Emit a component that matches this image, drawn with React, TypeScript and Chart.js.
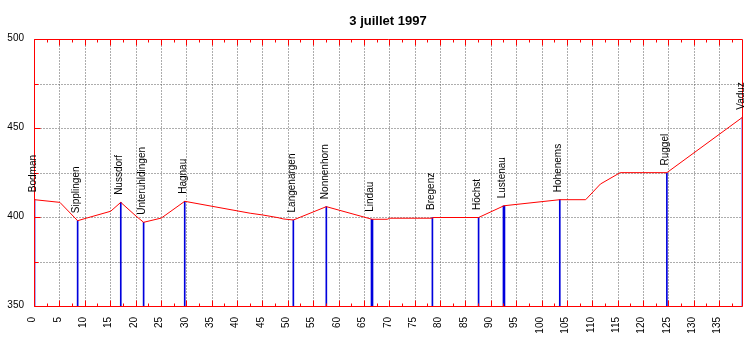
import React, { useEffect, useRef } from "react";
import { Chart, registerables } from "chart.js";

Chart.register(...registerables);

const TITLE = "3 juillet 1997";

const stations = ["Bodman", "Sipplingen", "Nussdorf", "Unteruhldingen", "Hagnau", "Langenargen", "Nonnenhorn", "Lindau", "Bregenz", "Höchst", "Lustenau", "Hohenems", "Ruggel", "Vaduz"];
const stationKm = [0, 8.5, 17, 21.5, 29.6, 51, 57.5, 66.5, 78.4, 87.5, 92.5, 103.5, 124.6, 139.5];
const stationAlt = [410, 398.2, 408.5, 397.3, 409.1, 398.6, 406.1, 399, 400, 400, 406.6, 410, 425, 456.3];
const stationThick = [false, false, false, false, false, false, false, true, false, false, true, false, false, false];

const routeKm = [0, 5, 8.5, 10.3, 15, 17, 20, 21.5, 25, 29.6, 42.5, 45, 48, 49, 51, 57.5, 66.5, 69.5, 70, 78.4, 78.5, 87.5, 92.5, 103.5, 108.6, 111.5, 115.4, 124.6, 139.5];
const routeAlt = [410, 408.5, 398.2, 399.7, 403.5, 408.5, 400.8, 397.3, 399.7, 409.1, 402.4, 401.4, 399.9, 399.2, 398.6, 406.1, 399, 399, 399.6, 399.6, 400, 400, 406.6, 410, 410, 418.8, 425.2, 425.2, 456.3];

const xTicks = [0, 5, 10, 15, 20, 25, 30, 35, 40, 45, 50, 55, 60, 65, 70, 75, 80, 85, 90, 95, 100, 105, 110, 115, 120, 125, 130, 135];
const xMinorTicks = [2.5, 7.5, 12.5, 17.5, 22.5, 27.5, 32.5, 37.5, 42.5, 47.5, 52.5, 57.5, 62.5, 67.5, 72.5, 77.5, 82.5, 87.5, 92.5, 97.5, 102.5, 107.5, 112.5, 117.5, 122.5, 127.5, 132.5, 137.5];
const yTicks = [350, 400, 450, 500];
const yMinorTicks = [375, 425, 475];

const X_MIN = 0;
const X_MAX = 139.5;
const Y_MIN = 350;
const Y_MAX = 500;

const FONT = '"Liberation Sans", Arial, sans-serif';
const RED = "#ff0000";
const BLUE = "#0000dd";

const snap = (v: number) => Math.round(v - 0.5) + 0.5;

const profilePlugin = {
  id: "profilePlugin",
  beforeDatasetsDraw(chart: any) {
    const { ctx, chartArea } = chart;
    const xs = chart.scales.x;
    const ys = chart.scales.y;
    ctx.save();
    ctx.strokeStyle = "#5a5a5a";
    ctx.lineWidth = 1;
    ctx.setLineDash([1, 2]);
    xTicks.forEach((v) => {
      if (v === X_MIN) return;
      const px = snap(xs.getPixelForValue(v));
      ctx.beginPath();
      ctx.moveTo(px, chartArea.top);
      ctx.lineTo(px, chartArea.bottom);
      ctx.stroke();
    });
    [...yTicks, ...yMinorTicks].forEach((v) => {
      if (v === Y_MIN || v === Y_MAX) return;
      const py = snap(ys.getPixelForValue(v));
      ctx.beginPath();
      ctx.moveTo(chartArea.left, py);
      ctx.lineTo(chartArea.right, py);
      ctx.stroke();
    });
    ctx.setLineDash([]);
    ctx.restore();
  },
  afterDatasetsDraw(chart: any) {
    const { ctx, chartArea } = chart;
    const xs = chart.scales.x;
    const ys = chart.scales.y;
    const L = snap(chartArea.left);
    const R = snap(chartArea.right);
    const T = snap(chartArea.top);
    const B = snap(chartArea.bottom);
    ctx.save();
    ctx.strokeStyle = RED;
    ctx.lineWidth = 1;
    ctx.beginPath();
    ctx.moveTo(L, T);
    ctx.lineTo(R, T);
    ctx.moveTo(L, B);
    ctx.lineTo(R, B);
    ctx.moveTo(L, T);
    ctx.lineTo(L, B);
    ctx.moveTo(R, T);
    ctx.lineTo(R, B);
    xTicks.forEach((v) => {
      const px = snap(xs.getPixelForValue(v));
      ctx.moveTo(px, B);
      ctx.lineTo(px, B - 6);
      ctx.moveTo(px, T);
      ctx.lineTo(px, T + 6);
    });
    xMinorTicks.forEach((v) => {
      const px = snap(xs.getPixelForValue(v));
      ctx.moveTo(px, B);
      ctx.lineTo(px, B - 3);
      ctx.moveTo(px, T);
      ctx.lineTo(px, T + 3);
    });
    yTicks.forEach((v) => {
      const py = snap(ys.getPixelForValue(v));
      ctx.moveTo(L, py);
      ctx.lineTo(L + 6, py);
    });
    yMinorTicks.forEach((v) => {
      const py = snap(ys.getPixelForValue(v));
      ctx.moveTo(L, py);
      ctx.lineTo(L + 4, py);
    });
    ctx.stroke();

    ctx.fillStyle = "#000";
    ctx.font = `10px ${FONT}`;
    ctx.textAlign = "right";
    ctx.textBaseline = "middle";
    yTicks.forEach((v) => {
      const py = ys.getPixelForValue(v);
      ctx.fillText(String(v), 24, py - 1);
    });

    xTicks.forEach((v) => {
      const px = xs.getPixelForValue(v);
      ctx.save();
      ctx.translate(px - 2, B + 10.5);
      ctx.rotate(-Math.PI / 2);
      ctx.textAlign = "right";
      ctx.textBaseline = "middle";
      ctx.fillText(String(v), 0, 0);
      ctx.restore();
    });

    stations.forEach((name, i) => {
      const px = xs.getPixelForValue(stationKm[i]);
      const py = ys.getPixelForValue(stationAlt[i]);
      ctx.save();
      ctx.translate(px - 1.5, py - 7.5);
      ctx.rotate(-Math.PI / 2);
      ctx.textAlign = "left";
      ctx.textBaseline = "middle";
      ctx.fillText(name, 0, 0);
      ctx.restore();
    });

    ctx.font = `bold 13px ${FONT}`;
    ctx.textAlign = "center";
    ctx.textBaseline = "alphabetic";
    ctx.fillText(TITLE, 388, 25);
    ctx.restore();
  },
};

export default function App() {
  const ref = useRef<HTMLCanvasElement | null>(null);
  useEffect(() => {
    if (!ref.current) return;
    const thin = stations.map((_, i) => i).filter((i) => !stationThick[i]);
    const thick = stations.map((_, i) => i).filter((i) => stationThick[i]);
    const chart = new Chart(ref.current, {
      type: "bar",
      data: {
        datasets: [
          {
            type: "line",
            label: "Altitude",
            data: routeKm.map((x, i) => ({ x, y: routeAlt[i] })),
            borderColor: RED,
            borderWidth: 1,
            pointRadius: 0,
            tension: 0,
            fill: false,
            order: 0,
          } as any,
          {
            type: "bar",
            label: "Stations",
            data: thin.map((i) => ({ x: stationKm[i], y: stationAlt[i] })),
            backgroundColor: BLUE,
            borderWidth: 0,
            barThickness: 1,
            grouped: false,
            order: 1,
          } as any,
          {
            type: "bar",
            label: "Stations2",
            data: thick.map((i) => ({ x: stationKm[i], y: stationAlt[i] })),
            backgroundColor: BLUE,
            borderWidth: 0,
            barThickness: 2,
            grouped: false,
            order: 1,
          } as any,
        ],
      },
      options: {
        animation: false,
        responsive: false,
        maintainAspectRatio: false,
        layout: { padding: { left: 34.5, right: 10.5, top: 39.5, bottom: 32.5 } },
        plugins: { legend: { display: false }, tooltip: { enabled: false }, title: { display: false } },
        scales: {
          x: { type: "linear", min: X_MIN, max: X_MAX, offset: false, display: false },
          y: { type: "linear", min: Y_MIN, max: Y_MAX, display: false },
        },
      },
      plugins: [profilePlugin],
    });
    return () => chart.destroy();
  }, []);
  return (
    <div style={{ position: "fixed", left: 0, top: 0, width: 753, height: 339, background: "#fff" }}>
      <canvas ref={ref} width={753} height={339} style={{ display: "block", width: 753, height: 339 }} />
    </div>
  );
}
